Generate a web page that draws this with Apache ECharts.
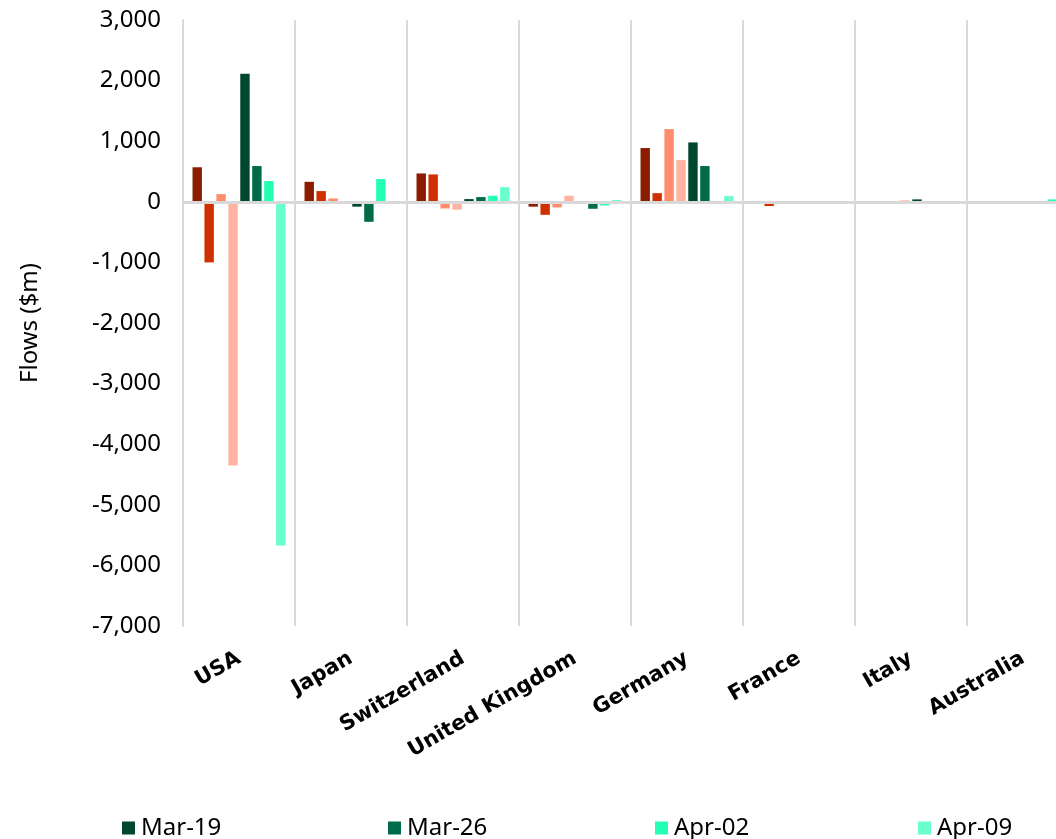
<!DOCTYPE html>
<html>
<head>
<meta charset="utf-8">
<script src="https://cdn.jsdelivr.net/npm/echarts@6/dist/echarts.min.js"></script>
<style>
html,body{margin:0;padding:0;background:#fff;overflow:hidden;}
#chart{width:1079px;height:839px;}
</style>
</head>
<body>
<div id="chart"></div>
<script>
var categories = ['USA', 'Japan', 'Switzerland', 'United Kingdom', 'Germany', 'France', 'Italy', 'Australia'];
var seriesNames = ['Feb-19', 'Feb-26', 'Mar-05', 'Mar-12', 'Mar-19', 'Mar-26', 'Apr-02', 'Apr-09'];
var legendNames = ['Mar-19', 'Mar-26', 'Apr-02', 'Apr-09'];
var feb19 = [570, 330, 468, -80, 887, 0, 0, 0];
var feb26 = [-1000, 177, 452, -215, 143, -70, 0, -10];
var mar05 = [127, 55, -110, -93, 1200, 0, 0, 0];
var mar12 = [-4350, -30, -130, 100, 688, 0, 25, 0];
var mar19 = [2115, -80, 45, -10, 980, -5, 40, -5];
var mar26 = [590, -330, 78, -115, 590, 0, 0, 0];
var apr02 = [342, 375, 100, -60, 5, -5, -10, 40];
var apr09 = [-5670, 0, 243, 30, 94, 0, -20, 0];
var yTicks = [-7000, -6000, -5000, -4000, -3000, -2000, -1000, 0, 1000, 2000, 3000];

var seriesValues = [feb19, feb26, mar05, mar12, mar19, mar26, apr02, apr09];
var colors = ['#8A1D00', '#D03000', '#FF8C6B', '#FFB3A0', '#00472F', '#006B4A', '#23FFB3', '#6BFFCC'];

var series = seriesValues.map(function (vals, i) {
  var s = {
    name: seriesNames[i],
    type: 'bar',
    data: vals,
    itemStyle: { color: colors[i] },
    barGap: '27%',
    barCategoryGap: '17%',
    emphasis: { disabled: true }
  };
  if (i === seriesValues.length - 1) {
    s.markLine = {
      silent: true,
      symbol: ['none', 'none'],
      label: { show: false },
      lineStyle: { color: '#d9d9d9', width: 3, type: 'solid' },
      emphasis: { disabled: true },
      data: [{ yAxis: 0 }]
    };
  }
  return s;
});

var legendLefts = [122, 388, 655, 918];
var legends = legendNames.map(function (n, i) {
  return {
    data: [n],
    left: legendLefts[i],
    top: 816,
    padding: 0,
    itemWidth: 13,
    itemHeight: 13,
    icon: 'rect',
    selectedMode: false,
    textStyle: { fontFamily: 'Noto Sans', fontSize: 24, color: '#000', padding: [0, 0, 0, 1] }
  };
});

var chart = echarts.init(document.getElementById('chart'), null, { renderer: 'canvas' });
chart.setOption({
  animation: false,
  color: colors,
  legend: legends,
  grid: { left: 183, right: 0, top: 20, bottom: 213, containLabel: false },
  xAxis: {
    type: 'category',
    data: categories,
    axisLine: { show: false, onZero: false },
    axisTick: { show: false },
    splitLine: { show: true, interval: 0, lineStyle: { color: '#d9d9d9', width: 2 } },
    axisLabel: {
      interval: 0,
      rotate: 30,
      margin: 31,
      fontFamily: 'DejaVu Sans',
      fontWeight: 'bold',
      fontSize: 21,
      color: '#000'
    }
  },
  yAxis: {
    type: 'value',
    min: yTicks[0],
    max: yTicks[yTicks.length - 1],
    interval: 1000,
    name: 'Flows ($m)',
    nameLocation: 'middle',
    nameGap: 141,
    nameRotate: 90,
    nameTextStyle: { fontFamily: 'Noto Sans', fontSize: 24, color: '#000' },
    axisLine: { show: true, lineStyle: { color: '#d9d9d9', width: 2 } },
    axisTick: { show: false },
    splitLine: { show: false },
    axisLabel: {
      margin: 22,
      fontFamily: 'Noto Sans',
      fontSize: 24,
      color: '#000',
      formatter: function (v) { return v.toLocaleString('en-US'); }
    }
  },
  series: series
});
</script>
</body>
</html>
